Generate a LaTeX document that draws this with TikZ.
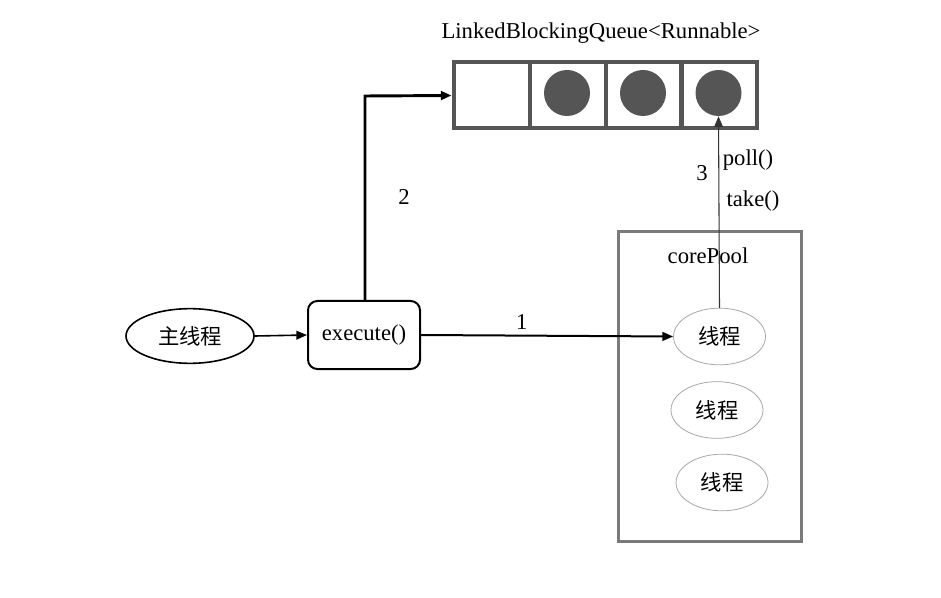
\documentclass[tikz,border=0pt]{standalone}
\usepackage{fontspec}
\setmainfont{Liberation Serif}
\newfontfamily\cjk{Noto Sans CJK SC}
\usetikzlibrary{arrows.meta,shapes.geometric}
\definecolor{qgray}{HTML}{555555}
\definecolor{pgray}{HTML}{7A7A7A}
\definecolor{tgray}{HTML}{A8A8A8}
\tikzset{
  lbl/.style={font=\fontsize{17}{20}\selectfont, inner sep=0pt},
  cell/.style={draw=qgray, line width=3pt, minimum width=57pt, minimum height=49.5pt, inner sep=0pt},
  ball/.style={circle, fill=qgray, minimum size=34.5pt, inner sep=0pt},
  thread/.style={ellipse, draw=tgray, line width=0.6pt, minimum width=69pt, minimum height=42.5pt, inner sep=0pt, font=\cjk\fontsize{16}{19}\selectfont},
  conn/.style={-{Triangle[length=8pt,width=6.5pt]}},
}
\begin{document}
\begin{tikzpicture}[x=0.75pt,y=-0.75pt]
\useasboundingbox (0,0) rectangle (941,598);
% queue
\node[lbl] (title) at (601,33) {LinkedBlockingQueue<Runnable>};
\node[cell] (c1) at (491.5,95.5) {};
\node[cell] (c2) at (567.5,95.5) {};
\node[cell] (c3) at (643.5,95.5) {};
\node[cell] (c4) at (719,95.5) {};
\node[ball] (b2) at (567,93) {};
\node[ball] (b3) at (643,93) {};
\node[ball] (b4) at (718.5,93) {};
% main thread
\node[ellipse, draw=black, line width=1.2pt, minimum width=96pt, minimum height=41pt, inner sep=0pt, font=\cjk\fontsize{16}{19}\selectfont] (main) at (190,336) {主线程};
\node[draw=black, line width=1.5pt, rounded corners=7pt, minimum width=84pt, minimum height=51pt, inner sep=0pt, lbl] (exec) at (364,335) {execute()};
% core pool
\node[draw=pgray, line width=2.2pt, minimum width=137pt, minimum height=232pt, inner sep=0pt] (pool) at (710,386.5) {};
\node[lbl] (pooltxt) at (708,256) {corePool};
\node[thread] (t1) at (719.5,336.5) {线程};
\node[thread] (t2) at (717,410) {线程};
\node[thread] (t3) at (722,482.5) {线程};
% connectors
\draw[conn, line width=1.2pt] (main.east) -- (exec.west);
\draw[conn, line width=1.5pt] (exec.east) -- (t1.west) node[lbl, pos=0.4, above=4pt] {1};
\coordinate (corner) at (365,96);
\draw[conn, line width=2.2pt] (exec.north -| corner) -- (corner) -- (c1.west);
\node[lbl] (l2) at (404,197) {2};
\draw[conn, line width=0.8pt, draw=black!80] (t1.north) -- (b4.south);
\node[lbl] (l3) at (702,173) {3};
\node[lbl] (lpoll) at (748,160) {poll()};
\node[lbl] (ltake) at (753,201) {take()};
\end{tikzpicture}
\end{document}
